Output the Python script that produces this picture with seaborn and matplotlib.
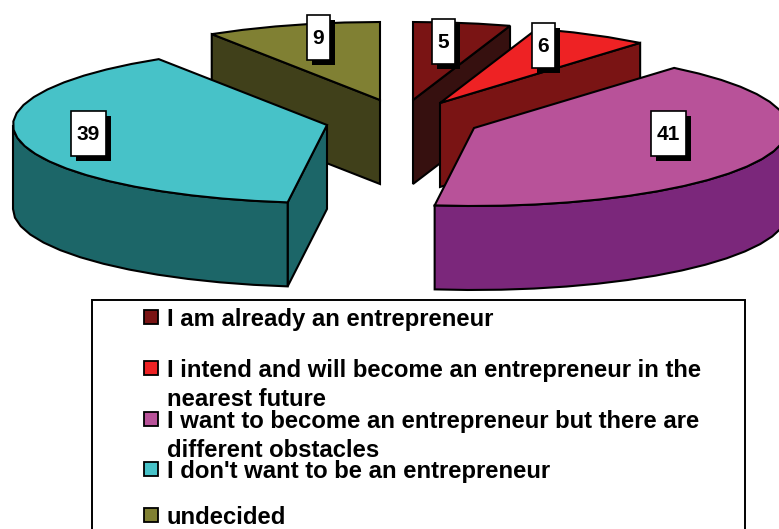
import numpy as np
import matplotlib
matplotlib.use("Agg")
import matplotlib.pyplot as plt
from matplotlib.patches import Polygon, Rectangle
import seaborn as sns

# ---- data ----
categories = ["I am already an entrepreneur",
              "I intend and will become an entrepreneur in the\nnearest future",
              "I want to become an entrepreneur but there are\ndifferent obstacles",
              "I don't want to be an entrepreneur",
              "undecided"]
values = [5, 6, 41, 39, 9]

# ---- styles / layout ----
top_colors = ["#7a1414", "#ee2224", "#b85299", "#47c2c8", "#808033"]
wall_colors = ["#36100f", "#7a1414", "#7b277b", "#1c6668", "#40401a"]
apex_x = [413, 440, 474, 327, 380]
apex_y = [100, 103, 128, 125, 100]
label_box_x = [432, 532, 651, 71, 307]
label_box_y = [19, 23, 111, 111, 15]
legend_baseline = [326, 377, 428, 478, 524]
RX, RY, DEPTH = 314, 78, 84
LW = 1.5

sns.set_theme(style="white")
plt.rcParams["font.family"] = ["Liberation Sans", "DejaVu Sans"]
palette = sns.color_palette(top_colors)
wall_palette = sns.color_palette(wall_colors)

fig = plt.figure(figsize=(7.79, 5.29), dpi=100)
ax = fig.add_axes([0, 0, 1, 1])
ax.set_xlim(0, 779)
ax.set_ylim(529, 0)
ax.axis("off")

fractions = np.array(values) / np.sum(values)
edges = np.concatenate([[0], np.cumsum(fractions)]) * 360


def rim(cx, cy, a0, a1):
    n = max(2, int(abs(a1 - a0) / 6) + 1)
    a = np.radians(np.linspace(a0, a1, n))
    return np.column_stack([cx + RX * np.sin(a), cy - RY * np.cos(a)])


def add_poly(pts, color, z):
    ax.add_patch(Polygon(pts, closed=True, facecolor=color, edgecolor="black",
                         linewidth=LW, joinstyle="miter", zorder=z))


order = [4, 0, 1, 3, 2]
for z, i in enumerate(order):
    cx, cy = apex_x[i], apex_y[i]
    a0, a1 = edges[i], edges[i + 1]
    apex = np.array([cx, cy])
    down = np.array([0, DEPTH])
    base = z * 10 + 2
    arc = rim(cx, cy, a0, a1)
    # straight cut wall
    if i in (0, 1):
        end = arc[-1]
        add_poly([apex, end, end + down, apex + down], wall_palette[i], base)
    if i in (3, 4):
        end = arc[0]
        add_poly([apex, end, end + down, apex + down], wall_palette[i], base)
    # curved rim wall for the front half
    lo, hi = max(a0, 90), min(a1, 270)
    if lo < hi:
        front = rim(cx, cy, lo, hi)
        add_poly(np.vstack([front, (front + down)[::-1]]), wall_palette[i], base + 1)
    add_poly(np.vstack([apex, arc]), palette[i], base + 2)

# value labels with drop shadow
for i, v in enumerate(values):
    w = 23 if v < 10 else 35
    x, y = label_box_x[i], label_box_y[i]
    ax.add_patch(Rectangle((x + 5, y + 5), w, 45, facecolor="black", edgecolor="none", zorder=90))
    ax.add_patch(Rectangle((x, y), w, 45, facecolor="white", edgecolor="black", linewidth=1.2, zorder=91))
    ax.text(x + w / 2, y + 23, str(v), ha="center", va="center", fontsize=15,
            fontweight="bold", color="black", zorder=92)

# legend
ax.add_patch(Rectangle((92, 300), 653, 260, facecolor="white", edgecolor="black",
                       linewidth=1.4, zorder=95, clip_on=True))
for i, label in enumerate(categories):
    y = legend_baseline[i]
    ax.add_patch(Rectangle((144, y - 16), 14, 14, facecolor=palette[i], edgecolor="black",
                           linewidth=1.3, zorder=96))
    for k, line in enumerate(label.split("\n")):
        ax.text(167, y + 29 * k, line, ha="left", va="baseline", fontsize=17.2,
                fontweight="bold", color="black", zorder=97)

fig.savefig("out.png", dpi=100, facecolor="white")
